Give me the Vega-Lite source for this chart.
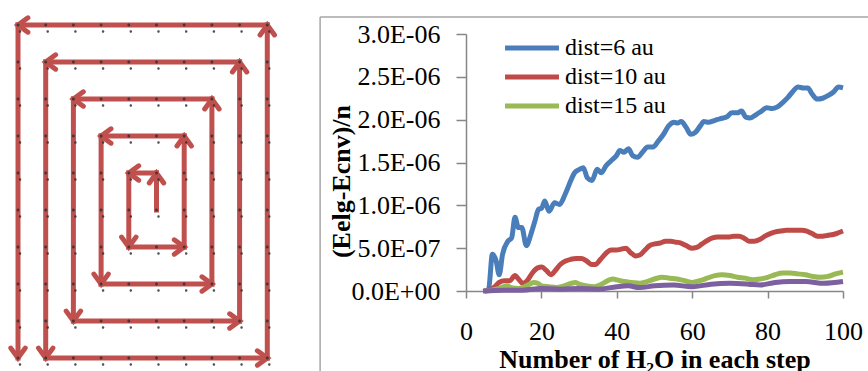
{
 "$schema": "https://vega.github.io/schema/vega-lite/v6.json",
 "padding": {"left": 0, "top": 7, "right": 0, "bottom": 0},
 "spacing": 28,
 "config": {"view": {"stroke": null}, "font": "Liberation Serif"},
 "resolve": {"scale": {"color": "independent", "angle": "independent"}, "legend": {"color": "independent", "angle": "independent"}},
 "datasets": {
  "spiral": [
   {"c1":5,"r1":5,"c2":5,"r2":4,"heading":0},
   {"c1":5,"r1":4,"c2":4,"r2":4,"heading":270},
   {"c1":4,"r1":4,"c2":4,"r2":6,"heading":180},
   {"c1":4,"r1":6,"c2":6,"r2":6,"heading":90},
   {"c1":6,"r1":6,"c2":6,"r2":3,"heading":0},
   {"c1":6,"r1":3,"c2":3,"r2":3,"heading":270},
   {"c1":3,"r1":3,"c2":3,"r2":7,"heading":180},
   {"c1":3,"r1":7,"c2":7,"r2":7,"heading":90},
   {"c1":7,"r1":7,"c2":7,"r2":2,"heading":0},
   {"c1":7,"r1":2,"c2":2,"r2":2,"heading":270},
   {"c1":2,"r1":2,"c2":2,"r2":8,"heading":180},
   {"c1":2,"r1":8,"c2":8,"r2":8,"heading":90},
   {"c1":8,"r1":8,"c2":8,"r2":1,"heading":0},
   {"c1":8,"r1":1,"c2":1,"r2":1,"heading":270},
   {"c1":1,"r1":1,"c2":1,"r2":9,"heading":180},
   {"c1":1,"r1":9,"c2":9,"r2":9,"heading":90},
   {"c1":9,"r1":9,"c2":9,"r2":0,"heading":0},
   {"c1":9,"r1":0,"c2":0,"r2":0,"heading":270},
   {"c1":0,"r1":0,"c2":0,"r2":9,"heading":180}
  ],
  "grid": [
   {"c":0,"r":0},{"c":1,"r":0},{"c":2,"r":0},{"c":3,"r":0},{"c":4,"r":0},{"c":5,"r":0},{"c":6,"r":0},{"c":7,"r":0},{"c":8,"r":0},{"c":9,"r":0},
   {"c":0,"r":1},{"c":1,"r":1},{"c":2,"r":1},{"c":3,"r":1},{"c":4,"r":1},{"c":5,"r":1},{"c":6,"r":1},{"c":7,"r":1},{"c":8,"r":1},{"c":9,"r":1},
   {"c":0,"r":2},{"c":1,"r":2},{"c":2,"r":2},{"c":3,"r":2},{"c":4,"r":2},{"c":5,"r":2},{"c":6,"r":2},{"c":7,"r":2},{"c":8,"r":2},{"c":9,"r":2},
   {"c":0,"r":3},{"c":1,"r":3},{"c":2,"r":3},{"c":3,"r":3},{"c":4,"r":3},{"c":5,"r":3},{"c":6,"r":3},{"c":7,"r":3},{"c":8,"r":3},{"c":9,"r":3},
   {"c":0,"r":4},{"c":1,"r":4},{"c":2,"r":4},{"c":3,"r":4},{"c":4,"r":4},{"c":5,"r":4},{"c":6,"r":4},{"c":7,"r":4},{"c":8,"r":4},{"c":9,"r":4},
   {"c":0,"r":5},{"c":1,"r":5},{"c":2,"r":5},{"c":3,"r":5},{"c":4,"r":5},{"c":5,"r":5},{"c":6,"r":5},{"c":7,"r":5},{"c":8,"r":5},{"c":9,"r":5},
   {"c":0,"r":6},{"c":1,"r":6},{"c":2,"r":6},{"c":3,"r":6},{"c":4,"r":6},{"c":5,"r":6},{"c":6,"r":6},{"c":7,"r":6},{"c":8,"r":6},{"c":9,"r":6},
   {"c":0,"r":7},{"c":1,"r":7},{"c":2,"r":7},{"c":3,"r":7},{"c":4,"r":7},{"c":5,"r":7},{"c":6,"r":7},{"c":7,"r":7},{"c":8,"r":7},{"c":9,"r":7},
   {"c":0,"r":8},{"c":1,"r":8},{"c":2,"r":8},{"c":3,"r":8},{"c":4,"r":8},{"c":5,"r":8},{"c":6,"r":8},{"c":7,"r":8},{"c":8,"r":8},{"c":9,"r":8},
   {"c":0,"r":9},{"c":1,"r":9},{"c":2,"r":9},{"c":3,"r":9},{"c":4,"r":9},{"c":5,"r":9},{"c":6,"r":9},{"c":7,"r":9},{"c":8,"r":9},{"c":9,"r":9}
  ],
  "series": [
   {"s":"dist=6 au","n":5,"v":0},{"s":"dist=6 au","n":6,"v":2e-8},{"s":"dist=6 au","n":7,"v":4.3e-7},{"s":"dist=6 au","n":8,"v":3.5e-7},{"s":"dist=6 au","n":8.8,"v":1.9e-7},{"s":"dist=6 au","n":9.7,"v":4.3e-7},{"s":"dist=6 au","n":11.1,"v":5.8e-7},{"s":"dist=6 au","n":12.1,"v":6.2e-7},{"s":"dist=6 au","n":13,"v":8.6e-7},{"s":"dist=6 au","n":13.9,"v":7.4e-7},{"s":"dist=6 au","n":14.8,"v":7.4e-7},{"s":"dist=6 au","n":16,"v":5.3e-7},{"s":"dist=6 au","n":17.2,"v":6.6e-7},{"s":"dist=6 au","n":18.3,"v":8.2e-7},{"s":"dist=6 au","n":19.2,"v":9.5e-7},{"s":"dist=6 au","n":20.1,"v":9.7e-7},{"s":"dist=6 au","n":20.9,"v":1.05e-6},{"s":"dist=6 au","n":22,"v":9.3e-7},{"s":"dist=6 au","n":23.5,"v":1.03e-6},{"s":"dist=6 au","n":24.8,"v":1.01e-6},{"s":"dist=6 au","n":26.3,"v":1.13e-6},{"s":"dist=6 au","n":27.8,"v":1.29e-6},{"s":"dist=6 au","n":28.8,"v":1.38e-6},{"s":"dist=6 au","n":30.1,"v":1.42e-6},{"s":"dist=6 au","n":31.1,"v":1.44e-6},{"s":"dist=6 au","n":32.2,"v":1.32e-6},{"s":"dist=6 au","n":33.4,"v":1.29e-6},{"s":"dist=6 au","n":34.8,"v":1.42e-6},{"s":"dist=6 au","n":35.9,"v":1.38e-6},{"s":"dist=6 au","n":37.1,"v":1.46e-6},{"s":"dist=6 au","n":38.5,"v":1.52e-6},{"s":"dist=6 au","n":39.9,"v":1.58e-6},{"s":"dist=6 au","n":40.8,"v":1.64e-6},{"s":"dist=6 au","n":41.9,"v":1.62e-6},{"s":"dist=6 au","n":43.1,"v":1.66e-6},{"s":"dist=6 au","n":44.2,"v":1.58e-6},{"s":"dist=6 au","n":45.5,"v":1.56e-6},{"s":"dist=6 au","n":46.8,"v":1.62e-6},{"s":"dist=6 au","n":48.2,"v":1.68e-6},{"s":"dist=6 au","n":49.6,"v":1.68e-6},{"s":"dist=6 au","n":51,"v":1.75e-6},{"s":"dist=6 au","n":52.4,"v":1.83e-6},{"s":"dist=6 au","n":53.8,"v":1.93e-6},{"s":"dist=6 au","n":55.2,"v":1.97e-6},{"s":"dist=6 au","n":56.1,"v":1.96e-6},{"s":"dist=6 au","n":57.1,"v":1.98e-6},{"s":"dist=6 au","n":58.4,"v":1.91e-6},{"s":"dist=6 au","n":59.6,"v":1.83e-6},{"s":"dist=6 au","n":60.8,"v":1.85e-6},{"s":"dist=6 au","n":62.2,"v":1.93e-6},{"s":"dist=6 au","n":63.1,"v":1.98e-6},{"s":"dist=6 au","n":64.3,"v":1.97e-6},{"s":"dist=6 au","n":65.9,"v":1.99e-6},{"s":"dist=6 au","n":67.3,"v":2.01e-6},{"s":"dist=6 au","n":69.1,"v":2.03e-6},{"s":"dist=6 au","n":70.5,"v":2.08e-6},{"s":"dist=6 au","n":71.9,"v":2.08e-6},{"s":"dist=6 au","n":73.1,"v":2.1e-6},{"s":"dist=6 au","n":74.2,"v":2.03e-6},{"s":"dist=6 au","n":75.4,"v":2.02e-6},{"s":"dist=6 au","n":77,"v":2.06e-6},{"s":"dist=6 au","n":78.4,"v":2.1e-6},{"s":"dist=6 au","n":79.8,"v":2.14e-6},{"s":"dist=6 au","n":81.2,"v":2.13e-6},{"s":"dist=6 au","n":82.6,"v":2.15e-6},{"s":"dist=6 au","n":84,"v":2.2e-6},{"s":"dist=6 au","n":85.4,"v":2.26e-6},{"s":"dist=6 au","n":86.7,"v":2.33e-6},{"s":"dist=6 au","n":88.1,"v":2.38e-6},{"s":"dist=6 au","n":89.5,"v":2.37e-6},{"s":"dist=6 au","n":90.7,"v":2.37e-6},{"s":"dist=6 au","n":91.8,"v":2.3e-6},{"s":"dist=6 au","n":93.2,"v":2.24e-6},{"s":"dist=6 au","n":94.6,"v":2.25e-6},{"s":"dist=6 au","n":96,"v":2.28e-6},{"s":"dist=6 au","n":97.4,"v":2.32e-6},{"s":"dist=6 au","n":98.8,"v":2.38e-6},{"s":"dist=6 au","n":100,"v":2.37e-6},
   {"s":"dist=10 au","n":5,"v":0},{"s":"dist=10 au","n":7.4,"v":4e-8},{"s":"dist=10 au","n":8.8,"v":1e-7},{"s":"dist=10 au","n":10.2,"v":1.2e-7},{"s":"dist=10 au","n":11.6,"v":1.2e-7},{"s":"dist=10 au","n":13,"v":1.8e-7},{"s":"dist=10 au","n":13.9,"v":1.4e-7},{"s":"dist=10 au","n":15.1,"v":9e-8},{"s":"dist=10 au","n":16.2,"v":1.2e-7},{"s":"dist=10 au","n":17.6,"v":2.1e-7},{"s":"dist=10 au","n":19,"v":2.7e-7},{"s":"dist=10 au","n":20.1,"v":2.8e-7},{"s":"dist=10 au","n":21.3,"v":2.4e-7},{"s":"dist=10 au","n":22.5,"v":1.9e-7},{"s":"dist=10 au","n":23.7,"v":2.4e-7},{"s":"dist=10 au","n":25,"v":3.1e-7},{"s":"dist=10 au","n":26.4,"v":3.5e-7},{"s":"dist=10 au","n":27.8,"v":3.7e-7},{"s":"dist=10 au","n":29.2,"v":3.8e-7},{"s":"dist=10 au","n":30.6,"v":3.8e-7},{"s":"dist=10 au","n":32,"v":3.5e-7},{"s":"dist=10 au","n":33.4,"v":3.1e-7},{"s":"dist=10 au","n":34.3,"v":3.1e-7},{"s":"dist=10 au","n":35.7,"v":3.7e-7},{"s":"dist=10 au","n":37.1,"v":4.4e-7},{"s":"dist=10 au","n":38.5,"v":4.8e-7},{"s":"dist=10 au","n":39.9,"v":4.8e-7},{"s":"dist=10 au","n":41.3,"v":4.9e-7},{"s":"dist=10 au","n":42.4,"v":5e-7},{"s":"dist=10 au","n":43.6,"v":4.5e-7},{"s":"dist=10 au","n":45,"v":4.1e-7},{"s":"dist=10 au","n":46.1,"v":4.2e-7},{"s":"dist=10 au","n":47.3,"v":4.7e-7},{"s":"dist=10 au","n":48.7,"v":5.3e-7},{"s":"dist=10 au","n":50.1,"v":5.5e-7},{"s":"dist=10 au","n":51.5,"v":5.6e-7},{"s":"dist=10 au","n":52.9,"v":5.8e-7},{"s":"dist=10 au","n":54.3,"v":5.8e-7},{"s":"dist=10 au","n":55.7,"v":5.7e-7},{"s":"dist=10 au","n":57,"v":5.6e-7},{"s":"dist=10 au","n":58.4,"v":5.3e-7},{"s":"dist=10 au","n":59.8,"v":5e-7},{"s":"dist=10 au","n":61.2,"v":5.1e-7},{"s":"dist=10 au","n":62.6,"v":5.5e-7},{"s":"dist=10 au","n":64,"v":5.9e-7},{"s":"dist=10 au","n":65.4,"v":6.2e-7},{"s":"dist=10 au","n":66.8,"v":6.3e-7},{"s":"dist=10 au","n":68.2,"v":6.3e-7},{"s":"dist=10 au","n":69.6,"v":6.3e-7},{"s":"dist=10 au","n":71,"v":6.4e-7},{"s":"dist=10 au","n":72.4,"v":6.4e-7},{"s":"dist=10 au","n":73.7,"v":6.2e-7},{"s":"dist=10 au","n":75.1,"v":5.8e-7},{"s":"dist=10 au","n":76.5,"v":5.8e-7},{"s":"dist=10 au","n":77.9,"v":6e-7},{"s":"dist=10 au","n":79.3,"v":6.4e-7},{"s":"dist=10 au","n":80.7,"v":6.7e-7},{"s":"dist=10 au","n":82.1,"v":6.9e-7},{"s":"dist=10 au","n":83.5,"v":7e-7},{"s":"dist=10 au","n":84.9,"v":7.1e-7},{"s":"dist=10 au","n":86.3,"v":7.1e-7},{"s":"dist=10 au","n":87.7,"v":7.1e-7},{"s":"dist=10 au","n":89.1,"v":7.1e-7},{"s":"dist=10 au","n":90.4,"v":7e-7},{"s":"dist=10 au","n":91.8,"v":6.7e-7},{"s":"dist=10 au","n":93.2,"v":6.4e-7},{"s":"dist=10 au","n":94.6,"v":6.4e-7},{"s":"dist=10 au","n":96,"v":6.5e-7},{"s":"dist=10 au","n":97.4,"v":6.6e-7},{"s":"dist=10 au","n":98.8,"v":6.8e-7},{"s":"dist=10 au","n":100,"v":7e-7},
   {"s":"dist=15 au","n":5,"v":0},{"s":"dist=15 au","n":8,"v":2e-8},{"s":"dist=15 au","n":10,"v":5e-8},{"s":"dist=15 au","n":11,"v":6e-8},{"s":"dist=15 au","n":12,"v":4e-8},{"s":"dist=15 au","n":14,"v":3e-8},{"s":"dist=15 au","n":16,"v":6e-8},{"s":"dist=15 au","n":18,"v":1e-7},{"s":"dist=15 au","n":19,"v":9e-8},{"s":"dist=15 au","n":20,"v":6e-8},{"s":"dist=15 au","n":22,"v":5e-8},{"s":"dist=15 au","n":24,"v":4e-8},{"s":"dist=15 au","n":26,"v":6e-8},{"s":"dist=15 au","n":28,"v":9e-8},{"s":"dist=15 au","n":29,"v":1e-7},{"s":"dist=15 au","n":30,"v":8e-8},{"s":"dist=15 au","n":32,"v":6e-8},{"s":"dist=15 au","n":34,"v":5e-8},{"s":"dist=15 au","n":36,"v":8e-8},{"s":"dist=15 au","n":38,"v":1.3e-7},{"s":"dist=15 au","n":39,"v":1.4e-7},{"s":"dist=15 au","n":40,"v":1.3e-7},{"s":"dist=15 au","n":42,"v":1.1e-7},{"s":"dist=15 au","n":44,"v":1e-7},{"s":"dist=15 au","n":46,"v":9e-8},{"s":"dist=15 au","n":48,"v":1.1e-7},{"s":"dist=15 au","n":50,"v":1.4e-7},{"s":"dist=15 au","n":52,"v":1.6e-7},{"s":"dist=15 au","n":54,"v":1.5e-7},{"s":"dist=15 au","n":56,"v":1.4e-7},{"s":"dist=15 au","n":58,"v":1.2e-7},{"s":"dist=15 au","n":60,"v":1e-7},{"s":"dist=15 au","n":62,"v":1.2e-7},{"s":"dist=15 au","n":64,"v":1.5e-7},{"s":"dist=15 au","n":66,"v":1.8e-7},{"s":"dist=15 au","n":68,"v":1.9e-7},{"s":"dist=15 au","n":70,"v":1.8e-7},{"s":"dist=15 au","n":72,"v":1.6e-7},{"s":"dist=15 au","n":74,"v":1.5e-7},{"s":"dist=15 au","n":76,"v":1.3e-7},{"s":"dist=15 au","n":78,"v":1.4e-7},{"s":"dist=15 au","n":80,"v":1.6e-7},{"s":"dist=15 au","n":82,"v":1.9e-7},{"s":"dist=15 au","n":84,"v":2.1e-7},{"s":"dist=15 au","n":86,"v":2.1e-7},{"s":"dist=15 au","n":88,"v":2e-7},{"s":"dist=15 au","n":90,"v":1.9e-7},{"s":"dist=15 au","n":92,"v":1.7e-7},{"s":"dist=15 au","n":94,"v":1.6e-7},{"s":"dist=15 au","n":96,"v":1.7e-7},{"s":"dist=15 au","n":98,"v":2e-7},{"s":"dist=15 au","n":100,"v":2.2e-7},
   {"s":"dist=20 au","n":4.5,"v":0},{"s":"dist=20 au","n":10,"v":1e-8},{"s":"dist=20 au","n":15,"v":1e-8},{"s":"dist=20 au","n":20,"v":3e-8},{"s":"dist=20 au","n":25,"v":2e-8},{"s":"dist=20 au","n":30,"v":3e-8},{"s":"dist=20 au","n":35,"v":2e-8},{"s":"dist=20 au","n":40,"v":5e-8},{"s":"dist=20 au","n":43,"v":6e-8},{"s":"dist=20 au","n":46,"v":4e-8},{"s":"dist=20 au","n":50,"v":6e-8},{"s":"dist=20 au","n":55,"v":7e-8},{"s":"dist=20 au","n":60,"v":5e-8},{"s":"dist=20 au","n":65,"v":8e-8},{"s":"dist=20 au","n":70,"v":9e-8},{"s":"dist=20 au","n":75,"v":8e-8},{"s":"dist=20 au","n":78,"v":7e-8},{"s":"dist=20 au","n":82,"v":1e-7},{"s":"dist=20 au","n":86,"v":1.1e-7},{"s":"dist=20 au","n":90,"v":1.1e-7},{"s":"dist=20 au","n":95,"v":9e-8},{"s":"dist=20 au","n":100,"v":1.1e-7}
  ]
 },
 "hconcat": [
  {
   "width": 290,
   "height": 337,
   "layer": [
    {
     "data": {"name": "spiral"},
     "mark": {"type": "rule", "color": "#c0504d", "strokeWidth": 5, "strokeCap": "square"},
     "encoding": {
      "x": {"field": "c1", "type": "quantitative", "scale": {"domain": [-0.614, 9.856], "nice": false, "zero": false}, "axis": null},
      "x2": {"field": "c2"},
      "y": {"field": "r1", "type": "quantitative", "scale": {"domain": [0.243, 9.351], "nice": false, "zero": false, "reverse": true}, "axis": null},
      "y2": {"field": "r2"}
     }
    },
    {
     "data": {"name": "spiral"},
     "mark": {"type": "point", "shape": "M-0.8,1.1L0,0L0.8,1.1", "filled": false, "stroke": "#c0504d", "strokeWidth": 5, "strokeCap": "round", "size": 324, "opacity": 1},
     "encoding": {
      "x": {"field": "c2", "type": "quantitative", "scale": {"domain": [-0.614, 9.856], "nice": false, "zero": false}, "axis": null},
      "y": {"field": "r2", "type": "quantitative", "scale": {"domain": [0.243, 9.351], "nice": false, "zero": false, "reverse": true}, "axis": null},
      "angle": {"field": "heading", "type": "quantitative", "scale": {"domain": [0, 360], "range": [0, 360]}, "legend": null}
     }
    },
    {
     "data": {"name": "grid"},
     "mark": {"type": "point", "shape": "M-0.3,0a0.3,0.3 0 1,0 0.6,0a0.3,0.3 0 1,0 -0.6,0Z M0.15,1.3a0.25,0.25 0 1,0 0.5,0a0.25,0.25 0 1,0 -0.5,0Z", "filled": true, "color": "#333333", "size": 100, "opacity": 0.85},
     "encoding": {
      "x": {"field": "c", "type": "quantitative", "scale": {"domain": [-0.614, 9.856], "nice": false, "zero": false}, "axis": null},
      "y": {"field": "r", "type": "quantitative", "scale": {"domain": [0.243, 9.351], "nice": false, "zero": false, "reverse": true}, "axis": null}
     }
    }
   ]
  },
  {
   "width": 377,
   "height": 257,
   "layer": [
    {
     "data": {"name": "series"},
     "mark": {"type": "line", "interpolate": "monotone", "strokeWidth": 5},
     "encoding": {
      "x": {"field": "n", "type": "quantitative", "scale": {"domain": [0, 100], "nice": false, "zero": false},
       "axis": {"values": [0, 20, 40, 60, 80, 100], "title": "Number of H₂O in each step", "titleFont": "Liberation Serif", "titleFontSize": 26, "titleFontWeight": "bold", "titleColor": "black", "titlePadding": 2, "labelFont": "Liberation Serif", "labelFontSize": 26, "labelColor": "black", "labelPadding": 20, "labelFlush": false, "labelOverlap": false, "tickSize": 7, "tickColor": "#868686", "tickWidth": 1.5, "domainColor": "#868686", "domainWidth": 1.5, "grid": false}},
      "y": {"field": "v", "type": "quantitative", "scale": {"domain": [0, 3e-6], "nice": false, "zero": false},
       "axis": {"values": [0, 5e-7, 1e-6, 1.5e-6, 2e-6, 2.5e-6, 3e-6], "labelExpr": "['0.0E+00','5.0E-07','1.0E-06','1.5E-06','2.0E-06','2.5E-06','3.0E-06'][round(datum.value*2e6)]", "title": "(Eelg-Ecnv)/n", "titleFont": "Liberation Serif", "titleFontSize": 26, "titleFontWeight": "bold", "titleColor": "black", "titleX": -112, "titleY": 147, "labelFont": "Liberation Serif", "labelFontSize": 26, "labelColor": "black", "labelPadding": 16, "labelFlush": false, "labelOverlap": false, "tickSize": 10, "tickColor": "#868686", "tickWidth": 1.5, "domainColor": "#868686", "domainWidth": 1.5, "grid": false}},
      "color": {"field": "s", "type": "nominal", "scale": {"domain": ["dist=6 au", "dist=10 au", "dist=15 au", "dist=20 au"], "range": ["#4a7ebb", "#be4b48", "#98b954", "#7d60a0"]},
       "legend": {"values": ["dist=6 au", "dist=10 au", "dist=15 au"], "orient": "none", "legendX": 54, "legendY": 2, "title": null, "symbolType": "M-4,0L4,0", "symbolSize": 182, "symbolStrokeWidth": 5, "labelFont": "Liberation Serif", "labelFontSize": 24, "labelColor": "black", "labelOffset": 21, "rowPadding": 5, "padding": 0}}
     }
    },
    {
     "data": {"values": [{}]},
     "mark": {"type": "rule", "color": "#a6a6a6", "strokeWidth": 1.5},
     "encoding": {
      "x": {"datum": -38.7, "type": "quantitative"},
      "x2": {"datum": 110},
      "y": {"datum": 3.198e-6, "type": "quantitative"}
     }
    },
    {
     "data": {"values": [{}]},
     "mark": {"type": "rule", "color": "#a6a6a6", "strokeWidth": 1.5},
     "encoding": {
      "x": {"datum": -38.7, "type": "quantitative"},
      "y": {"datum": 3.198e-6, "type": "quantitative"},
      "y2": {"datum": -1.3e-6}
     }
    }
   ]
  }
 ]
}
